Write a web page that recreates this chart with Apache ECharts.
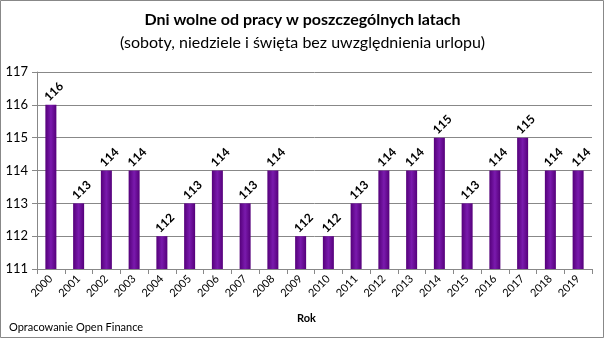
<!DOCTYPE html>
<html><head><meta charset="utf-8">
<script src="https://cdn.jsdelivr.net/npm/echarts@6/dist/echarts.min.js"></script>
<style>html,body{margin:0;padding:0;background:#fff}#c{width:605px;height:339px}</style>
</head><body><div id="c"></div>
<script>
const years = ['2000','2001','2002','2003','2004','2005','2006','2007','2008','2009','2010','2011','2012','2013','2014','2015','2016','2017','2018','2019'];
const daysOff = [116,113,114,114,112,113,114,113,114,112,112,113,114,114,115,113,114,115,114,114];
const yTicks = {min:111, max:117, interval:1};
const F = 'Lato, "Open Sans", sans-serif';
const chart = echarts.init(document.getElementById('c'));
chart.setOption({
  animation:false,
  backgroundColor:'#fff',
  title:[
    {text:'Dni wolne od pracy w poszczególnych latach', left:'center', top:7, textStyle:{fontFamily:F, fontSize:16, fontWeight:'bold', color:'#000'}},
    {text:'(soboty, niedziele i święta bez uwzględnienia urlopu)', left:'center', top:30, textStyle:{fontFamily:F, fontSize:16, fontWeight:'normal', color:'#000'}}
  ],
  graphic:[
    {type:'rect', shape:{x:0.5,y:0.5,width:603,height:337}, style:{fill:'none', stroke:'#888', lineWidth:1}},
    {type:'text', left:9, top:322, style:{text:'Opracowanie Open Finance', font:'11px '+F, fill:'#000'}},
    {type:'text', left:297, top:313, style:{text:'Rok', font:'bold 11px '+F, fill:'#000'}}
  ],
  grid:{left:37, right:13, top:72, bottom:70},
  xAxis:{type:'category', data:years, boundaryGap:true,
    axisLine:{lineStyle:{color:'#888'}},
    axisTick:{show:true, alignWithLabel:false, length:5, lineStyle:{color:'#888'}},
    axisLabel:{interval:0, rotate:45, fontFamily:F, fontSize:11, color:'#000', margin:8}
  },
  yAxis:{type:'value', min:yTicks.min, max:yTicks.max, interval:yTicks.interval,
    axisLine:{show:true, lineStyle:{color:'#888'}},
    axisTick:{show:true, length:5, lineStyle:{color:'#888'}},
    splitLine:{lineStyle:{color:'#888'}},
    axisLabel:{fontFamily:F, fontSize:13, color:'#000', margin:9}
  },
  series:[{type:'bar', data:daysOff, barWidth:11,
    itemStyle:{color:new echarts.graphic.LinearGradient(0,0,1,0,[{offset:0,color:'#55007a'},{offset:0.5,color:'#7a1aad'},{offset:1,color:'#55007a'}])},
    label:{show:true, position:'top', distance:10, rotate:45, align:'left', verticalAlign:'middle', offset:[-6,0], fontFamily:F, fontSize:12, fontWeight:'bold', color:'#000'}
  }]
});
</script></body></html>
